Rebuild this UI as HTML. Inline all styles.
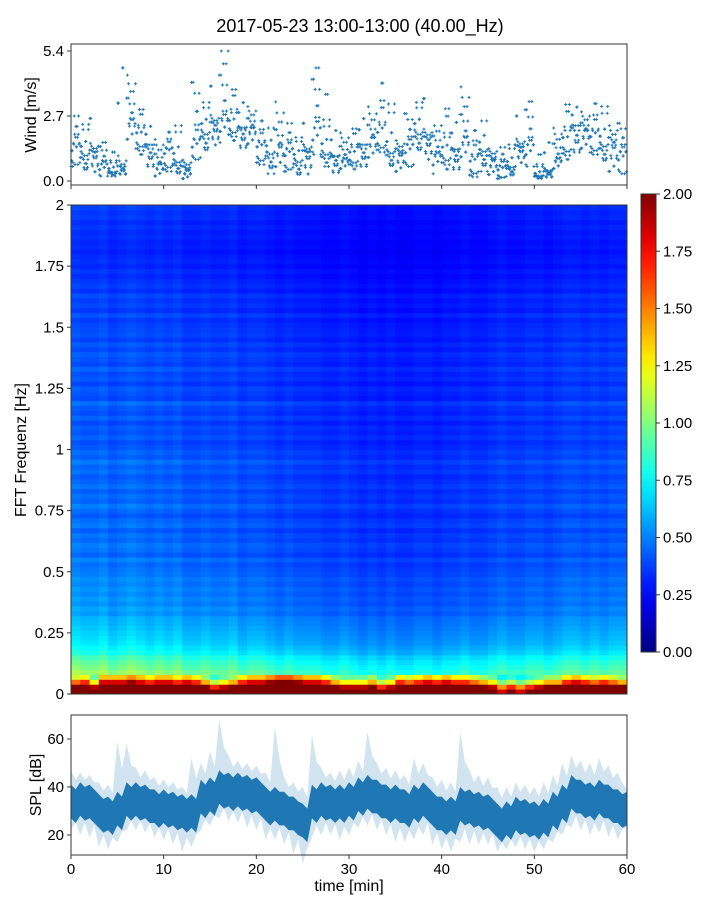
<!DOCTYPE html>
<html><head><meta charset="utf-8">
<style>
html,body{margin:0;padding:0;background:#fff;}
svg text{font-family:"Liberation Sans","DejaVu Sans",sans-serif;fill:#000;}
</style></head>
<body>
<svg id="fig" width="720" height="900" viewBox="0 0 720 900" xmlns="http://www.w3.org/2000/svg">
<rect width="720" height="900" fill="#fff"/>
<text x="360" y="32" font-size="18" text-anchor="middle">2017-05-23 13:00-13:00 (40.00_Hz)</text>
<g id="wind"></g>
<g id="spec"></g>
<g id="cbar"></g>
<g id="spl"></g>
</svg>
<script>
// ---- data ----
const windMean=[1.5,1.3,1.2,0.7,0.5,0.6,2.5,2.0,1.5,0.7,1.3,0.9,0.5,1.7,2.3,2.4,2.6,2.5,2.2,2.2,1.5,1.2,1.5,1.3,1.0,1.2,2.2,1.5,1.0,0.9,1.2,1.5,1.8,2.2,1.3,1.2,1.5,2.3,1.8,1.1,1.4,1.3,1.8,0.9,1.3,0.9,0.6,0.7,1.4,1.5,0.3,0.4,0.9,1.8,2.3,2.1,2.0,1.6,1.6,1.2];
const windHi=[2.7,2.6,2.6,1.6,1.2,4.7,4.4,3.2,2.7,2.3,2.2,2.3,1.5,4.1,3.8,4.3,5.4,3.8,3.5,3.3,2.5,2.2,5.1,2.4,2.0,2.4,4.7,3.6,2.1,2.0,2.4,3.2,3.8,4.5,3.2,2.5,2.8,3.8,3.8,2.3,3.0,2.7,4.4,2.1,2.5,1.8,1.4,1.7,2.7,3.3,1.1,1.6,2.2,3.5,3.5,3.3,3.5,3.1,3.5,2.4];
const windLo=[0.6,0.4,0.3,0.2,0.2,0.2,1.3,1.1,0.6,0.1,0.4,0.2,0.1,0.9,1.3,1.5,1.6,1.6,1.3,1.3,0.6,0.3,0.5,0.4,0.2,0.2,1.1,0.6,0.2,0.3,0.5,0.6,0.8,1.2,0.5,0.4,0.6,1.3,0.9,0.3,0.4,0.4,0.7,0.1,0.4,0.2,0.1,0.2,0.7,0.6,0.1,0.1,0.3,0.9,1.2,1.2,1.1,0.7,0.4,0.3];
const windTicks=[0.0,2.7,5.4];
const splMean=[33,34,33,29,28,30,34,34,33,31,31,30,29,29,35,36,39,38,38,37,36,32,32,30,28,25,33,34,33,33,34,36,37,35,33,33,31,33,34,30,28,28,32,31,30,29,25,26,28,27,26,27,30,33,37,35,34,35,33,31];
const splHi=[47,46,45,42,41,59,58,48,47,44,43,42,40,52,50,55,68,53,51,50,49,46,65,44,42,40,62,48,46,47,48,51,63,50,48,47,45,52,50,44,43,42,63,47,45,44,40,40,42,41,40,42,45,50,53,51,50,52,49,46];
const splLo=[22,20,19,15,14,17,22,22,21,19,18,16,13,15,22,24,27,26,25,23,22,18,18,16,12,8,19,20,20,18,20,23,24,22,20,17,17,18,20,16,14,13,17,16,16,16,13,14,15,14,13,14,17,20,23,22,20,21,19,18];
const splTicks=[20,40,60];
const timeTicks=[0,10,20,30,40,50,60];
const freqTicks=[0,0.25,0.5,0.75,1,1.25,1.5,1.75,2];
const freqTickLabels=["0","0.25","0.5","0.75","1","1.25","1.5","1.75","2"];
const cbarTicks=[0,0.25,0.5,0.75,1,1.25,1.5,1.75,2];
const rowLevel=[2.6,2.1,1.4,1.05,0.95,0.9,0.85,0.8,0.72,0.68,0.64,0.62,0.6,0.58,0.56,0.55,0.5,0.52,0.48,0.5,0.47,0.49,0.46,0.48,0.45,
0.44,0.42,0.46,0.4,0.43,0.45,0.41,0.43,0.39,0.44,0.42,0.38,0.41,0.45,0.4,0.42,0.39,0.43,0.4,0.38,0.42,0.4,0.44,0.39,0.41,
0.38,0.36,0.4,0.37,0.39,0.35,0.4,0.36,0.38,0.42,0.35,0.37,0.39,0.34,0.38,0.36,0.4,0.35,0.37,0.39,0.35,0.38,0.34,0.37,0.36,
0.35,0.33,0.37,0.32,0.35,0.33,0.36,0.31,0.34,0.32,0.3,0.32,0.29,0.31,0.3,0.28,0.3,0.29,0.31,0.3,0.32,0.3,0.33,0.32,0.34];
const colLevel=[1.15,1.1,1.1,1.15,1.05,1.1,1.15,1.1,1.05,1.1,1.05,1.1,1.0,1.0,1.05,1.0,1.0,1.05,0.95,1.0,1.0,0.95,0.9,0.95,0.9,0.9,0.9,0.85,0.85,0.9,0.85,0.8,0.85,0.8,0.85,0.8,0.8,0.85,0.85,0.8,0.85,0.85,0.9,0.85,0.85,0.9,0.95,0.9,0.9,0.95,0.95,0.9,0.95,1.0,1.0,0.95,1.0,0.95,1.0,1.0];
const colLow=[1.1,1.2,0.9,1.3,1.3,1.3,1.4,1.3,1.2,1.3,1.3,1.2,1.3,1.2,1.0,0.8,0.9,1.0,1.2,1.3,1.3,1.4,1.5,1.5,1.4,1.3,1.3,1.2,1.0,0.9,0.9,0.9,1.0,0.8,0.9,1.2,1.1,1.2,1.3,1.2,1.3,1.2,1.2,1.1,1.0,0.9,0.7,0.8,0.7,0.8,0.9,1.0,1.0,1.2,1.3,1.2,1.1,1.2,1.1,1.0];

// ---- helpers ----
const NS="http://www.w3.org/2000/svg";
function mk(parent,tag,attrs){const e=document.createElementNS(NS,tag);for(const k in attrs)e.setAttribute(k,attrs[k]);parent.appendChild(e);return e;}
const X0=71,X1=627;
const xT=t=>X0+(X1-X0)*t/60;
const yW=v=>181-v*24.07;
const yF=f=>694-(694-205)*f/2;
const yS=v=>883-2.4*v;
const yC=v=>652-(652-194)*v/2;
function jet(v){v=Math.max(0,Math.min(1,v));
 const r=Math.max(0,Math.min(1,1.5-Math.abs(4*v-3))),g=Math.max(0,Math.min(1,1.5-Math.abs(4*v-2))),b=Math.max(0,Math.min(1,1.5-Math.abs(4*v-1)));
 return `rgb(${Math.round(r*255)},${Math.round(g*255)},${Math.round(b*255)})`;}
const blue="#1f77b4";

// ---- wind panel ----
const W=document.getElementById('wind');
const N=23;
for(let i=0;i<windMean.length;i++){
 for(let k=0;k<N;k++){
  const f=((k*k*5+k*3+i*7)%N)/(N-1);
  const v=f<0.5?windLo[i]+(windMean[i]-windLo[i])*2*f:windMean[i]+(windHi[i]-windMean[i])*Math.pow(2*f-1,2.2);
  const x=xT(i+k/N),y=yW(v);
  const p=mk(W,'path',{d:`M${x-1.5},${y}h3M${x},${y-1.5}v3`,stroke:blue,'stroke-width':1});
  
  
 }
}
const wf=mk(W,'rect',{x:X0,y:44,width:X1-X0,height:141,fill:'none',stroke:'#333','stroke-width':1});

windTicks.forEach(v=>{
 mk(W,'line',{x1:X0-4,x2:X0,y1:yW(v),y2:yW(v),stroke:'#333'});
 const t=mk(W,'text',{x:X0-7,y:yW(v)+5,'font-size':15,'text-anchor':'end'});t.textContent=v.toFixed(1);
 
});
timeTicks.forEach(v=>mk(W,'line',{x1:xT(v),x2:xT(v),y1:185,y2:189,stroke:'#333'}));
const wl=mk(W,'text',{transform:'translate(36,115) rotate(-90)','font-size':16,'text-anchor':'middle'});wl.textContent='Wind [m/s]';


// ---- spectrogram ----
const S=document.getElementById('spec');
const nr=rowLevel.length,nc=colLevel.length,df=2/nr;
for(let c=0;c<nc;c++){
 for(let r=0;r<nr;r++){
  let v=rowLevel[r]*colLevel[c];
  if(r<4)v=rowLevel[r]*colLow[c];
  const y1=yF((r+1)*df),y2=yF(r*df);
  const e=mk(S,'rect',{x:xT(c),y:y1,width:xT(c+1)-xT(c)+0.5,height:y2-y1+0.5,fill:jet(v/2)});
  
  
 }
}
const sf=mk(S,'rect',{x:X0,y:205,width:X1-X0,height:489,fill:'none',stroke:'#333'});

freqTicks.forEach((v,i)=>{
 mk(S,'line',{x1:X0-4,x2:X0,y1:yF(v),y2:yF(v),stroke:'#333'});
 const t=mk(S,'text',{x:X0-7,y:yF(v)+5,'font-size':15,'text-anchor':'end'});t.textContent=freqTickLabels[i];
 
});
const sl=mk(S,'text',{transform:'translate(26,450) rotate(-90)','font-size':16,'text-anchor':'middle'});sl.textContent='FFT Frequenz [Hz]';


// ---- colorbar ----
const C=document.getElementById('cbar');
const defs=mk(C,'defs',{});
const lg=mk(defs,'linearGradient',{id:'jetg',x1:0,y1:1,x2:0,y2:0});
for(let i=0;i<=20;i++)mk(lg,'stop',{offset:i/20,'stop-color':jet(i/20)});
const cr=mk(C,'rect',{x:641,y:194,width:15,height:458,fill:'url(#jetg)',stroke:'#333'});

cbarTicks.forEach(v=>{
 mk(C,'line',{x1:656,x2:660,y1:yC(v),y2:yC(v),stroke:'#333'});
 const t=mk(C,'text',{x:663,y:yC(v)+5,'font-size':15});t.textContent=v.toFixed(2);
 
});

// ---- SPL ----
const P=document.getElementById('spl');
let up='',dn='',mu='',md='';
for(let i=0;i<splMean.length;i++){
 const xa=xT(i),xb=xT(i+1);
 up+=`L${xa},${yS(splHi[i])}L${(xa+xb)/2},${yS((splHi[i]+splMean[i])/2+3)}`;
 dn=`L${(xa+xb)/2},${yS((splLo[i]+splMean[i])/2-2)}L${xa},${yS(splLo[i])}`+dn;
 mu+=`L${xa},${yS(splMean[i]+8)}L${(xa+xb)/2},${yS(splMean[i]+6)}`;
 md=`L${(xa+xb)/2},${yS(splMean[i]-8)}L${xa},${yS(splMean[i]-6)}`+md;
}
const L=splMean.length-1;
const light=mk(P,'path',{d:'M'+up.slice(1)+`L${X1},${yS(splMean[L]+8)}L${X1},${yS(splMean[L]-8)}`+dn+'Z',fill:blue,'fill-opacity':0.2});

const dark=mk(P,'path',{d:'M'+mu.slice(1)+`L${X1},${yS(splMean[L]+7)}L${X1},${yS(splMean[L]-7)}`+md+'Z',fill:blue});

const pf=mk(P,'rect',{x:X0,y:715,width:X1-X0,height:140,fill:'none',stroke:'#333'});

splTicks.forEach(v=>{
 mk(P,'line',{x1:X0-4,x2:X0,y1:yS(v),y2:yS(v),stroke:'#333'});
 const t=mk(P,'text',{x:X0-7,y:yS(v)+5,'font-size':15,'text-anchor':'end'});t.textContent=v;
 
});
timeTicks.forEach(v=>{
 mk(P,'line',{x1:xT(v),x2:xT(v),y1:855,y2:859,stroke:'#333'});
 const t=mk(P,'text',{x:xT(v),y:874,'font-size':15,'text-anchor':'middle'});t.textContent=v;
 
});
const pl=mk(P,'text',{transform:'translate(41,785) rotate(-90)','font-size':16,'text-anchor':'middle'});pl.textContent='SPL [dB]';

const xl=mk(P,'text',{x:349,y:891,'font-size':16,'text-anchor':'middle'});xl.textContent='time [min]';

</script>
</body></html>
